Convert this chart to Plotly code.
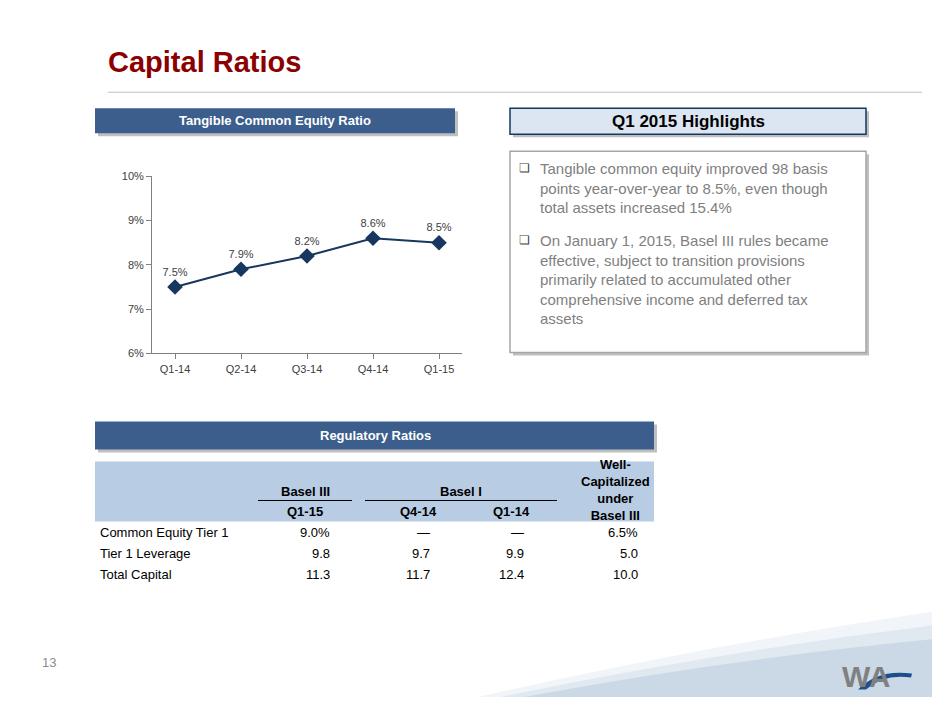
import plotly.graph_objects as go

W, H = 940, 705
OFF = 8  # page body margin
quarters = ["Q1-14", "Q2-14", "Q3-14", "Q4-14", "Q1-15"]
tce_ratio = [7.5, 7.9, 8.2, 8.6, 8.5]
tce_labels = ["7.5%", "7.9%", "8.2%", "8.6%", "8.5%"]

row_names = ["Common Equity Tier 1", "Tier 1 Leverage", "Total Capital"]
col_q115 = ["9.0%", "9.8", "11.3"]
col_q414 = ["\u2014", "9.7", "11.7"]
col_q114 = ["\u2014", "9.9", "12.4"]
col_well = ["6.5%", "5.0", "10.0"]

bullets = [
    "Tangible common equity improved 98 basis<br>points year-over-year to 8.5%, even though<br>total assets increased 15.4%",
    "On January 1, 2015, Basel III rules became<br>effective, subject to transition provisions<br>primarily related to accumulated other<br>comprehensive income and deferred tax<br>assets",
]

FW, FH = W - 2 * OFF, H - 2 * OFF
TOP, VH = 13.8, 0.982 * FH  # where the figure actually lands on the page

def px(x): return (x - OFF) / FW
def py(y): return 1 - (y - TOP) / VH

fig = go.Figure()
fig.add_trace(go.Scatter(
    x=quarters, y=tce_ratio, mode="lines+markers+text",
    text=tce_labels, textposition="top center",
    textfont=dict(size=11, color="#404040"),
    line=dict(color="#17375E", width=2),
    marker=dict(symbol="diamond", size=12, color="#17375E"),
    cliponaxis=False, showlegend=False))

fig.update_layout(
    width=FW, height=FH, margin=dict(l=0, r=0, t=0, b=0),
    paper_bgcolor="white", plot_bgcolor="white",
    font=dict(family="Arial, Liberation Sans", color="#000"),
    xaxis=dict(domain=[px(152), px(462)], showline=True, linecolor="#808080",
               ticks="outside", ticklen=5, tickcolor="#808080", showgrid=False,
               tickfont=dict(size=11, color="#404040"), anchor="y"),
    yaxis=dict(domain=[py(353), py(176)], range=[6, 10], dtick=1, ticksuffix="%",
               showline=True, linecolor="#808080", ticks="outside", ticklen=5,
               tickcolor="#808080", showgrid=False, zeroline=False,
               tickfont=dict(size=11, color="#404040"), anchor="x"),
)

shapes = []
ann = []

def box(x0, y0, x1, y1, fill, line="rgba(0,0,0,0)", shadow=True):
    if shadow:
        shapes.append(dict(type="rect", xref="paper", yref="paper",
                           x0=px(x0 + 3), x1=px(x1 + 3), y0=py(y1 + 3), y1=py(y0 + 3),
                           fillcolor="#BFBFBF", line=dict(width=0), layer="below"))
    shapes.append(dict(type="rect", xref="paper", yref="paper",
                       x0=px(x0), x1=px(x1), y0=py(y1), y1=py(y0),
                       fillcolor=fill, line=dict(color=line, width=1.5), layer="below"))

def text(x, y, s, size=13, color="#000", anchor="left", bold=False, yanchor="middle"):
    if bold:
        s = "<b>" + s + "</b>"
    ann.append(dict(xref="paper", yref="paper", x=px(x), y=py(y), text=s,
                    showarrow=False, xanchor=anchor, yanchor=yanchor,
                    font=dict(size=size, color=color), align=anchor if anchor != "middle" else "center"))

# decorative swoosh
for k, c in enumerate(["#F1F5F9", "#E0E8F0", "#CBD9E6"]):
    shapes.append(dict(type="path", xref="paper", yref="paper", layer="below",
                       path=f"M {px(440 + 20*k)},{py(705)} Q {px(700)},{py(645 + 8*k)} {px(940)},{py(610 + 14*k)} L {px(940)},{py(705)} Z",
                       fillcolor=c, line=dict(width=0)))

# title
text(106, 62, "Capital Ratios", 29, "#8B0000", bold=True)
shapes.append(dict(type="line", xref="paper", yref="paper", x0=px(108), x1=px(922),
                   y0=py(92), y1=py(92), line=dict(color="#BFBFBF", width=1)))

# header boxes
box(95, 108, 455, 133, "#3B5E8C")
text(275, 120, "Tangible Common Equity Ratio", 13, "white", "center", True)
box(510, 108, 866, 134, "#DCE6F2", "#17375E")
text(688, 121, "Q1 2015 Highlights", 17, "#000", "center", True)
box(510, 151, 866, 352, "white", "#A6A6A6")
text(517, 168, "\u274f", 12, "#404040", "left")
text(538, 158, bullets[0], 15, "#7F7F7F", "left", yanchor="top")
text(517, 240, "\u274f", 12, "#404040", "left")
text(538, 230, bullets[1], 15, "#7F7F7F", "left", yanchor="top")

box(95, 421, 654, 449, "#3B5E8C")
text(375, 435, "Regulatory Ratios", 13, "white", "center", True)

# table
shapes.append(dict(type="rect", xref="paper", yref="paper", x0=px(95), x1=px(654),
                   y0=py(521), y1=py(461), fillcolor="#B8CCE4", line=dict(width=0), layer="below"))
for a, b in [(258, 352), (365, 557)]:
    shapes.append(dict(type="line", xref="paper", yref="paper", x0=px(a), x1=px(b),
                       y0=py(500), y1=py(500), line=dict(color="#000", width=1)))
text(305, 491, "Basel III", 13, anchor="center", bold=True)
text(461, 491, "Basel I", 13, anchor="center", bold=True)
text(305, 511, "Q1-15", 13, anchor="center", bold=True)
text(418, 511, "Q4-14", 13, anchor="center", bold=True)
text(512, 511, "Q1-14", 13, anchor="center", bold=True)
text(615, 490, "Well-<br>Capitalized<br>under<br>Basel III", 13, anchor="center", bold=True)
for i, name in enumerate(row_names):
    y = 532 + 21 * i
    text(98, y, name, 13)
    text(332, y, col_q115[i], 13, anchor="right")
    text(432, y, col_q414[i], 13, anchor="right")
    text(526, y, col_q114[i], 13, anchor="right")
    text(640, y, col_well[i], 13, anchor="right")

# footer
text(40, 662, "13", 13, "#8C8C8C")
text(866, 676, "WA", 30, "#808080", "center", True)
shapes.append(dict(type="path", xref="paper", yref="paper",
                   path=f"M {px(858)},{py(689)} Q {px(878)},{py(668)} {px(912)},{py(673)} L {px(911)},{py(677)} Q {px(884)},{py(673)} {px(866)},{py(689)} Z",
                   fillcolor="#1F4E8C", line=dict(width=0)))

fig.update_layout(shapes=shapes, annotations=ann)
fig.write_html("out.html")
